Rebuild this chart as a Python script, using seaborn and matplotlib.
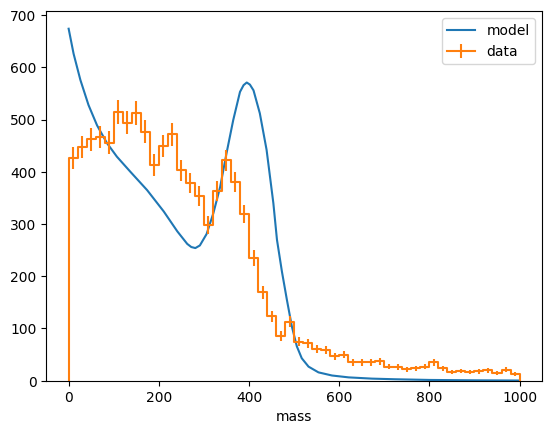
import numpy as np
import matplotlib
matplotlib.use("Agg")
import matplotlib.pyplot as plt
import seaborn as sns

# histogram bins (width 20, 0..1000)
bin_lo = list(range(0, 1000, 20))
bin_hi = list(range(20, 1001, 20))

counts = [426, 448, 462, 467, 456, 515, 494, 513, 477, 413,
          449, 472, 403, 379, 354, 298, 364, 422, 381, 319,
          235, 169, 123, 86, 113, 75, 72, 61, 59, 47,
          50, 35, 35, 35, 37, 27, 26, 22, 24, 27,
          35, 24, 17, 19, 17, 18, 20, 15, 21, 13]

count_err = [20.6, 21.2, 21.5, 21.6, 21.4, 22.7, 22.2, 22.6, 21.8, 20.3,
             21.2, 21.7, 20.1, 19.5, 18.8, 17.3, 19.1, 20.5, 19.5, 17.9,
             15.3, 13.0, 11.1, 9.3, 10.6, 8.7, 8.5, 7.8, 7.7, 6.9,
             7.1, 5.9, 5.9, 5.9, 6.1, 5.2, 5.1, 4.7, 4.9, 5.2,
             5.9, 4.9, 4.1, 4.4, 4.1, 4.2, 4.5, 3.9, 4.6, 3.6]

# model curve
model_mass = [0, 11, 26, 44, 63, 85, 107, 137, 174, 211, 241, 263, 272, 281,
              291, 306, 321, 336, 350, 365, 380, 388, 395, 402, 410, 424,
              439, 454, 462, 473, 484, 495, 506, 517, 532, 554, 584, 621,
              673, 724, 800, 900, 1000]
model_val = [674, 626, 576, 528, 489, 455, 429, 400, 365, 324, 286, 262, 256, 254,
             259, 281, 321, 371, 435, 499, 553, 566, 571, 567, 556, 512,
             442, 340, 270, 209, 155, 104, 66, 43, 27, 16, 10, 6.4,
             4, 2.8, 1.5, 0.8, 0.4]

lo = np.array(bin_lo, dtype=float)
hi = np.array(bin_hi, dtype=float)
centers = (lo + hi) / 2
c = np.array(counts, dtype=float)

fig, ax = plt.subplots(figsize=(6.4, 4.8), dpi=100)

sns.lineplot(x=model_mass, y=model_val, color="C0", label="model", ax=ax)

ax.errorbar(centers, c, yerr=count_err, drawstyle="steps-mid",
            color="C1", label="data")
# close the step outline at both ends of the histogram range
ax.plot([lo[0], lo[0], centers[0]], [0, c[0], c[0]], color="C1")
ax.plot([centers[-1], hi[-1], hi[-1]], [c[-1], c[-1], 0], color="C1")

ax.set_ylim(bottom=0)
ax.set_xlabel("mass")
ax.set_ylabel("")
ax.legend(loc="upper right")

fig.savefig("out.png", dpi=100, bbox_inches="tight")
